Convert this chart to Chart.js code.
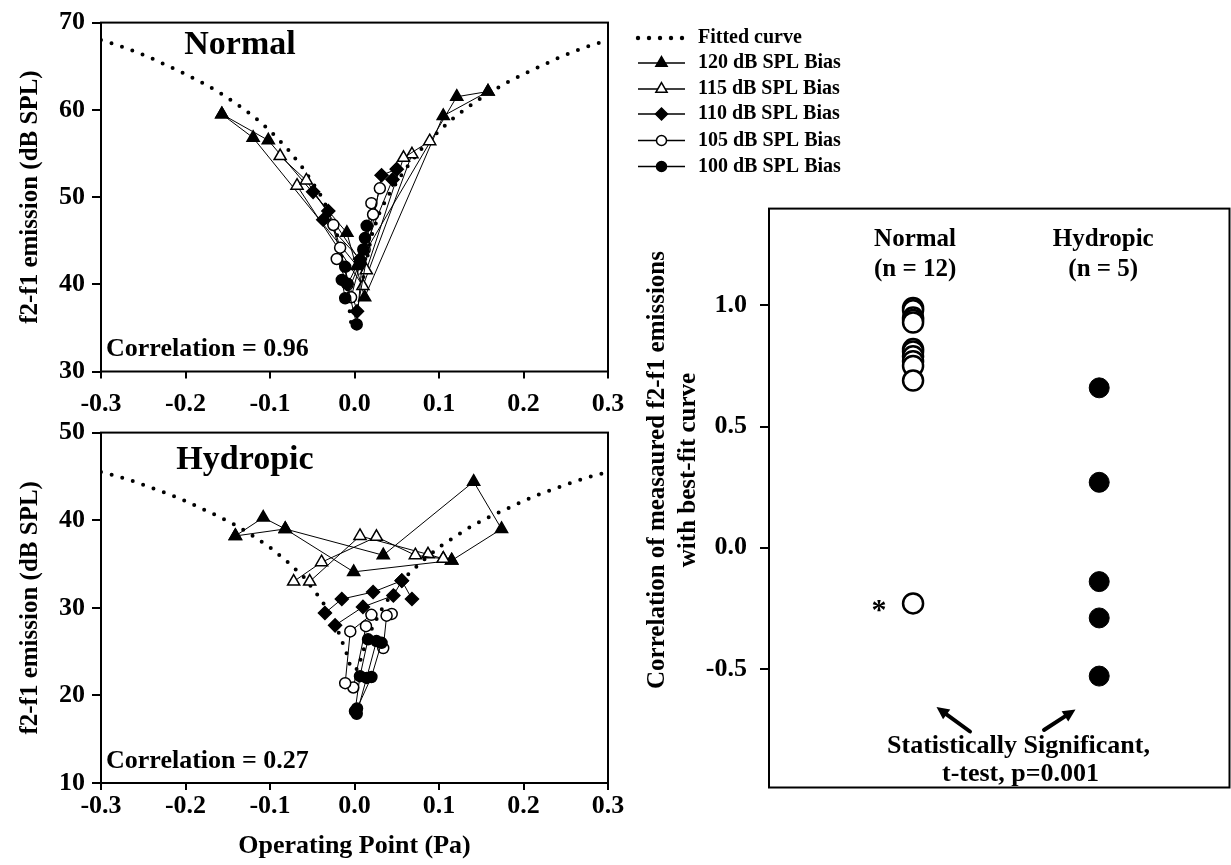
<!DOCTYPE html>
<html>
<head>
<meta charset="utf-8">
<title>f2-f1 emission vs operating point</title>
<script src="https://cdn.jsdelivr.net/npm/chart.js@4.4.1/dist/chart.umd.min.js"></script>
<style>
  html, body { margin: 0; padding: 0; background: #fff; }
  body { width: 1231px; height: 865px; position: relative; overflow: hidden; }
  canvas { position: absolute; }
  #topChart { left: 0; top: 0; }
  #botChart { left: 0; top: 410px; }
  #corrChart { left: 620px; top: 180px; }
</style>
</head>
<body>
<canvas id="topChart" width="860" height="420"></canvas>
<canvas id="botChart" width="640" height="455"></canvas>
<canvas id="corrChart" width="611" height="685"></canvas>
<script>
// ---- datos ----
const xTicks = [-0.3, -0.2, -0.1, 0.0, 0.1, 0.2, 0.3];
const yTicksNormal = [30, 40, 50, 60, 70];
const yTicksHydropic = [10, 20, 30, 40, 50];
const yTicksCorr = [-0.5, 0.0, 0.5, 1.0];

const biasLabels = ['120 dB SPL Bias', '115 dB SPL Bias', '110 dB SPL Bias', '105 dB SPL Bias', '100 dB SPL Bias'];

// curva ajustada (puntos leidos sobre la linea punteada)
const fitX = [-0.30, -0.28, -0.26, -0.24, -0.22, -0.20, -0.18, -0.16, -0.14, -0.12, -0.10, -0.08, -0.06, -0.04, -0.03, -0.02, -0.01, -0.004,
              0.004, 0.01, 0.02, 0.03, 0.04, 0.06, 0.08, 0.10, 0.12, 0.14, 0.16, 0.18, 0.20, 0.22, 0.24, 0.26, 0.28, 0.30];
const fitNormalY = [68.0, 67.4, 66.7, 65.9, 65.0, 64.1, 63.1, 62.0, 60.7, 59.3, 57.6, 55.6, 53.2, 50.2, 48.3, 45.5, 40.5, 35.5,
                    35.5, 40.5, 45.5, 48.3, 50.2, 53.2, 55.6, 57.6, 59.3, 60.7, 62.0, 63.1, 64.1, 65.0, 65.9, 66.7, 67.4, 68.0];
const fitHydropicY = [45.5, 45.0, 44.4, 43.7, 43.0, 42.2, 41.3, 40.4, 39.4, 38.2, 36.9, 35.3, 33.5, 31.0, 29.5, 27.5, 25.0, 23.0,
                      23.0, 25.0, 27.5, 29.5, 31.0, 33.5, 35.3, 36.9, 38.2, 39.4, 40.4, 41.3, 42.2, 43.0, 43.7, 44.4, 45.0, 45.5];

// oidos normales: [presion, emision] por barrido
const normal120 = [
  [[-0.157, 59.5], [-0.102, 56.5], [-0.009, 45.9], [0.012, 38.5], [0.105, 59.3], [0.158, 62.1]],
  [[-0.157, 59.5], [-0.120, 56.8], [0.003, 42.1], [0.121, 61.5], [0.158, 62.1]]
];
const normal115 = [
  [[-0.088, 54.7], [-0.057, 51.9], [0.014, 41.6], [0.058, 54.5], [0.089, 56.4]],
  [[-0.068, 51.3], [0.010, 39.8], [0.068, 54.9]]
];
const normal110 = [
  [[-0.049, 50.6], [-0.031, 48.4], [0.003, 36.9], [0.032, 52.5], [0.050, 53.2]],
  [[-0.037, 47.4], [0.0065, 42.9], [0.045, 52.0]]
];
const normal105 = [
  [[-0.025, 46.8], [-0.017, 44.2], [-0.004, 38.5], [0.022, 48.0], [0.030, 51.0]],
  [[-0.021, 42.9], [-0.008, 40.0], [0.012, 44.0], [0.020, 49.3]]
];
const normal100 = [
  [[-0.011, 42.0], [-0.009, 40.1], [0.0026, 35.4], [0.0104, 44.0], [0.0144, 46.7]],
  [[-0.015, 40.5], [-0.011, 38.4], [0.0065, 42.5], [0.0124, 45.3]]
];

// oidos hidropicos
const hydropic120 = [
  [[-0.141, 38.2], [-0.108, 40.3], [-0.082, 39.0], [0.034, 36.0], [0.141, 44.4], [0.174, 39.0], [0.115, 35.4]],
  [[-0.141, 38.2], [-0.082, 39.0], [-0.001, 34.1], [0.115, 35.4]]
];
const hydropic115 = [
  [[-0.072, 33.0], [-0.039, 35.2], [0.026, 38.1], [0.072, 36.0], [0.105, 35.6]],
  [[-0.053, 33.0], [0.0065, 38.2], [0.087, 36.1], [0.105, 35.6]]
];
const hydropic110 = [
  [[-0.035, 29.4], [-0.015, 31.0], [0.022, 31.8], [0.056, 33.1]],
  [[-0.023, 28.0], [0.010, 30.1], [0.046, 31.4], [0.056, 33.1], [0.068, 31.0]]
];
const hydropic105 = [
  [[0.020, 29.2], [-0.005, 27.3], [-0.011, 21.4]],
  [[0.044, 29.3], [0.038, 29.1], [0.034, 25.4]],
  [[0.0136, 27.9], [-0.0014, 20.9]]
];
const hydropic100 = [
  [[0.016, 26.4], [0.0065, 22.2], [0.0006, 18.2]],
  [[0.026, 26.2], [0.0144, 22.0], [0.0026, 17.9]],
  [[0.032, 26.0], [0.020, 22.1], [0.003, 18.5]]
];

// correlacion con la curva ajustada
const corrGroups = ['Normal', 'Hydropic'];
const corrGroupN = [12, 5];
const corrNormal = [0.99, 0.98, 0.95, 0.94, 0.93, 0.82, 0.81, 0.79, 0.77, 0.75, 0.69, -0.23];
const corrHydropic = [0.66, 0.27, -0.14, -0.29, -0.53];

// ---- estilos ----
const FONT = 'Liberation Serif';
Chart.defaults.font.family = FONT;
Chart.defaults.color = '#000';

// orden: 120, 115, 110, 105, 100
const markStyles = [
  { pointStyle: 'triangle', fill: '#000', radius: 7 },
  { pointStyle: 'triangle', fill: '#fff', radius: 7 },
  { pointStyle: 'rectRot', fill: '#000', radius: 6.5 },
  { pointStyle: 'circle', fill: '#fff', radius: 5.5 },
  { pointStyle: 'circle', fill: '#000', radius: 5.5 }
];

function buildDatasets(groups, fitY) {
  const sets = [];
  // 100 dB primero: Chart.js dibuja el dataset 0 encima
  for (let b = groups.length - 1; b >= 0; b--) {
    const st = markStyles[b];
    groups[b].forEach(trace => {
      sets.push({
        data: trace.map(p => ({ x: p[0], y: p[1] })),
        showLine: true,
        borderColor: '#000',
        borderWidth: 1,
        pointStyle: st.pointStyle,
        pointRadius: st.radius,
        pointBackgroundColor: st.fill,
        pointBorderColor: '#000',
        pointBorderWidth: 1.5
      });
    });
  }
  sets.push({
    data: fitX.map((x, i) => ({ x: x, y: fitY[i] })),
    showLine: true,
    borderColor: '#000',
    borderWidth: 4,
    borderDash: [0, 11],
    borderCapStyle: 'round',
    pointRadius: 0
  });
  return sets;
}

// marco completo alrededor del area del grafico
const framePlugin = {
  id: 'frame',
  beforeDatasetsDraw(chart) {
    const { ctx, chartArea: a } = chart;
    ctx.save();
    ctx.strokeStyle = '#000';
    ctx.lineWidth = 2;
    ctx.strokeRect(a.left, a.top, a.right - a.left, a.bottom - a.top);
    ctx.restore();
  }
};

function panelScales(yMin, yMax, yTicks, xHeight, xPad, xTitle) {
  return {
    x: {
      type: 'linear', min: -0.3, max: 0.3,
      afterBuildTicks: s => { s.ticks = xTicks.map(v => ({ value: v })); },
      afterFit: s => { s.height = xHeight; },
      ticks: { callback: v => v.toFixed(1), font: { size: 26, weight: 'bold' }, color: '#000', padding: xPad, maxRotation: 0, autoSkip: false },
      grid: { drawOnChartArea: false, tickLength: 7, color: '#000', lineWidth: 2 },
      border: { display: false },
      title: xTitle ? { display: true, text: xTitle, font: { size: 26, weight: 'bold' }, color: '#000', padding: { top: 0, bottom: 3 } } : { display: false }
    },
    y: {
      type: 'linear', min: yMin, max: yMax,
      afterBuildTicks: s => { s.ticks = yTicks.map(v => ({ value: v })); },
      afterFit: s => { s.width = 101; },
      ticks: { font: { size: 26, weight: 'bold' }, color: '#000', padding: 7 },
      grid: { drawOnChartArea: false, tickLength: 9, color: '#000', lineWidth: 2 },
      border: { display: false },
      title: { display: true, text: 'f2-f1 emission (dB SPL)', font: { size: 25, weight: 'bold' }, color: '#000', padding: { top: 16, bottom: 0 } }
    }
  };
}

function panelText(name, corrText, nameDx, nameDy) {
  return {
    id: 'panelText',
    afterDraw(chart) {
      const { ctx, chartArea: a } = chart;
      ctx.save();
      ctx.fillStyle = '#000';
      ctx.textBaseline = 'middle';
      ctx.textAlign = 'center';
      ctx.font = 'bold 34px "' + FONT + '"';
      ctx.fillText(name, a.left + nameDx, a.top + nameDy);
      ctx.textAlign = 'left';
      ctx.font = 'bold 26px "' + FONT + '"';
      ctx.fillText(corrText, a.left + 5, a.bottom - 22);
      ctx.restore();
    }
  };
}

// leyenda fuera del area, a la derecha del panel superior
const legendPlugin = {
  id: 'sideLegend',
  afterDraw(chart) {
    const ctx = chart.ctx;
    const rows = [38, 63, 89, 114, 140.5, 166.5];
    const x0 = 638, x1 = 685, xm = 661.5, xt = 698;
    ctx.save();
    ctx.fillStyle = '#000';
    ctx.strokeStyle = '#000';
    ctx.font = 'bold 20px "' + FONT + '"';
    ctx.textBaseline = 'middle';
    ctx.textAlign = 'left';
    for (let i = 0; i < 5; i++) {
      ctx.beginPath();
      ctx.arc(x0 + i * 11, rows[0], 2.2, 0, Math.PI * 2);
      ctx.fill();
    }
    ctx.fillText('Fitted curve', xt, rows[0]);
    const legendR = [6.5, 6.5, 6, 5, 5];
    biasLabels.forEach((lab, i) => {
      const y = rows[i + 1];
      ctx.lineWidth = 1.5;
      ctx.beginPath();
      ctx.moveTo(x0, y);
      ctx.lineTo(x1, y);
      ctx.stroke();
      ctx.fillStyle = markStyles[i].fill;
      ctx.lineWidth = 1.5;
      Chart.helpers.drawPoint(ctx, { pointStyle: markStyles[i].pointStyle, radius: legendR[i], borderWidth: 1.5 }, xm, y);
      ctx.fillStyle = '#000';
      ctx.fillText(lab, xt, y);
    });
    ctx.restore();
  }
};

new Chart(document.getElementById('topChart'), {
  type: 'scatter',
  data: { datasets: buildDatasets([normal120, normal115, normal110, normal105, normal100], fitNormalY) },
  options: {
    responsive: false,
    animation: false,
    events: [],
    layout: { autoPadding: false, padding: { top: 17, right: 252, left: 0, bottom: 0 } },
    plugins: { legend: { display: false }, tooltip: { enabled: false } },
    scales: panelScales(30, 70, yTicksNormal, 48.5, 10, null)
  },
  plugins: [framePlugin, panelText('Normal', 'Correlation = 0.96', 139, 23), legendPlugin]
});

new Chart(document.getElementById('botChart'), {
  type: 'scatter',
  data: { datasets: buildDatasets([hydropic120, hydropic115, hydropic110, hydropic105, hydropic100], fitHydropicY) },
  options: {
    responsive: false,
    animation: false,
    events: [],
    layout: { autoPadding: false, padding: { top: 19, right: 32, left: 0, bottom: 0 } },
    plugins: { legend: { display: false }, tooltip: { enabled: false } },
    scales: panelScales(10, 50, yTicksHydropic, 82, 1, 'Operating Point (Pa)')
  },
  plugins: [framePlugin, panelText('Hydropic', 'Correlation = 0.27', 144, 28)]
});

// ---- panel de correlaciones ----
function drawArrow(ctx, x1, y1, x2, y2) {
  const a = Math.atan2(y2 - y1, x2 - x1);
  const head = 14;
  ctx.lineWidth = 4;
  ctx.lineCap = 'round';
  ctx.beginPath();
  ctx.moveTo(x1, y1);
  ctx.lineTo(x2 - Math.cos(a) * head * 0.7, y2 - Math.sin(a) * head * 0.7);
  ctx.stroke();
  ctx.beginPath();
  ctx.moveTo(x2, y2);
  ctx.lineTo(x2 - head * Math.cos(a - 0.45), y2 - head * Math.sin(a - 0.45));
  ctx.lineTo(x2 - head * Math.cos(a + 0.45), y2 - head * Math.sin(a + 0.45));
  ctx.closePath();
  ctx.fill();
}

const corrTextPlugin = {
  id: 'corrText',
  afterDraw(chart) {
    const { ctx, chartArea: a } = chart;
    const xs = chart.scales.x, ys = chart.scales.y;
    ctx.save();
    ctx.fillStyle = '#000';
    ctx.strokeStyle = '#000';
    ctx.textAlign = 'center';
    ctx.textBaseline = 'middle';
    ctx.font = 'bold 25px "' + FONT + '"';
    corrGroups.forEach((g, i) => {
      const px = xs.getPixelForValue(i + 1) + 2 + i * 2;
      ctx.fillText(g, px, a.top + 30.5);
      ctx.fillText('(n = ' + corrGroupN[i] + ')', px, a.top + 60.5);
    });
    // asterisco junto al valor atipico
    ctx.font = 'bold 30px "' + FONT + '"';
    ctx.textBaseline = 'alphabetic';
    ctx.fillText('*', xs.getPixelForValue(1) - 34, ys.getPixelForValue(corrNormal[corrNormal.length - 1]) + 16);
    // titulo del eje y en dos lineas
    ctx.font = 'bold 25px "' + FONT + '"';
    ctx.textBaseline = 'middle';
    ctx.save();
    ctx.translate(38, 290);
    ctx.rotate(-Math.PI / 2);
    ctx.fillText('Correlation of measaured f2-f1 emissions', 0, 0);
    ctx.restore();
    ctx.save();
    ctx.translate(69, 290);
    ctx.rotate(-Math.PI / 2);
    ctx.fillText('with best-fit curve', 0, 0);
    ctx.restore();
    // flechas y nota
    drawArrow(ctx, 350, 551.5, 316.5, 527);
    drawArrow(ctx, 424, 550, 455.5, 529.5);
    ctx.font = 'bold 26px "' + FONT + '"';
    ctx.fillText('Statistically Significant,', 398.5, 566.5);
    ctx.fillText('t-test, p=0.001', 400.5, 594);
    ctx.restore();
  }
};

new Chart(document.getElementById('corrChart'), {
  type: 'scatter',
  data: {
    datasets: [
      {
        data: corrNormal.map(v => ({ x: 1, y: v })),
        pointStyle: 'circle', pointRadius: 10,
        pointBackgroundColor: '#fff', pointBorderColor: '#000', pointBorderWidth: 2.5
      },
      {
        data: corrHydropic.map(v => ({ x: 2, y: v })),
        pointStyle: 'circle', pointRadius: 10,
        pointBackgroundColor: '#000', pointBorderColor: '#000', pointBorderWidth: 1
      }
    ]
  },
  options: {
    responsive: false,
    animation: false,
    events: [],
    layout: { autoPadding: false, padding: { top: 24.5, right: 1.5, left: 0, bottom: 77.5 } },
    plugins: { legend: { display: false }, tooltip: { enabled: false } },
    scales: {
      x: { type: 'linear', min: 0.226, max: 2.70, display: false },
      y: {
        type: 'linear', min: -0.99, max: 1.40,
        afterBuildTicks: s => { s.ticks = yTicksCorr.map(v => ({ value: v })); },
        afterFit: s => { s.width = 149; },
        ticks: { callback: v => v.toFixed(1), font: { size: 26, weight: 'bold' }, color: '#000', padding: 13 },
        grid: { drawOnChartArea: false, tickLength: 9, color: '#000', lineWidth: 2 },
        border: { display: false }
      }
    }
  },
  plugins: [framePlugin, corrTextPlugin]
});
</script>
</body>
</html>
